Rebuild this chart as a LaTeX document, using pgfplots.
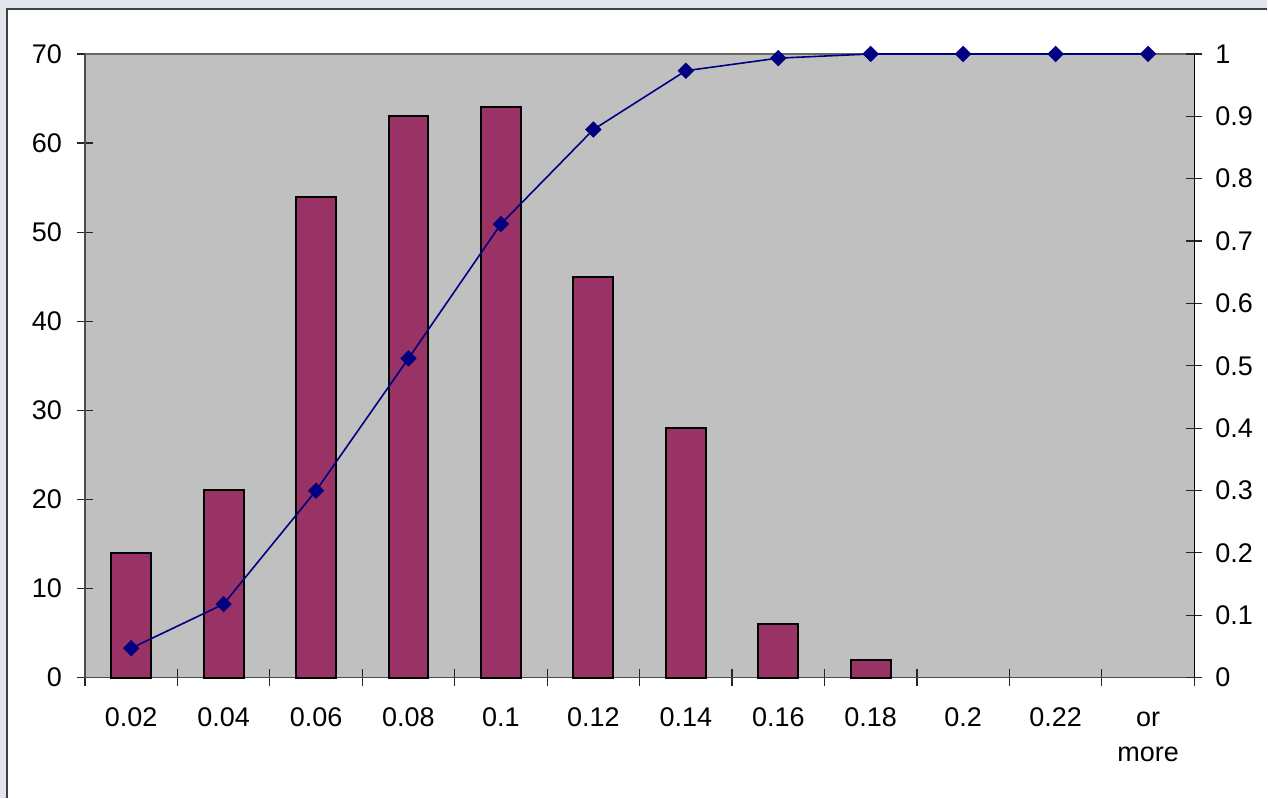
\documentclass[border=0pt]{standalone}
\usepackage{pgfplots}
\pgfplotsset{compat=1.18}
\usepackage{fontspec}
\setmainfont{Liberation Sans}
\definecolor{plum}{RGB}{153,51,102}
\definecolor{navy}{RGB}{0,0,128}
\definecolor{plotgray}{RGB}{192,192,192}
\definecolor{slide}{RGB}{226,230,236}
\begin{document}
\begin{tikzpicture}[x=1pt,y=1pt]
% slide background and white chart area (1px = 0.5pt)
\fill[slide] (0,0) rectangle (634,399);
\fill[white] (3.5,0) rectangle (634,394.5);
\draw[black!75,line width=0.8pt] (3.5,0) -- (3.5,394.5) -- (634,394.5);
\useasboundingbox (0,0) rectangle (634,399);

\begin{axis}[
  at={(42.5pt,60pt)}, anchor=south west,
  scale only axis, width=555pt, height=312pt,
  font=\fontsize{13.5}{16}\selectfont,
  /pgf/number format/assume math mode=true,
  axis background/.style={fill=plotgray},
  axis x line*=bottom, axis y line*=left,
  axis line style={black!70, line width=0.6pt},
  xmin=-0.5, xmax=11.5, ymin=0, ymax=70,
  ytick={0,10,...,70},
  xtick={0,...,11},
  xticklabels={0.02,0.04,0.06,0.08,0.1,0.12,0.14,0.16,0.18,0.2,0.22,
    {\begin{tabular}[t]{@{}c@{}}or\\[1.5pt]more\end{tabular}}},
  major x tick style={draw=none},
  minor xtick={-0.5,0.5,...,11.5},
  minor tick length=8.5pt,
  tick align=center,
  major tick length=8pt,
  tick style={black!85, line width=0.6pt},
  xticklabel style={anchor=base, yshift=-20.5pt},
  yticklabel style={xshift=-4pt},
  clip=false,
]
\addplot[ybar, bar width=20pt, fill=plum, draw=black, line width=1pt]
coordinates {
  (0,14) (1,21) (2,54) (3,63) (4,64) (5,45) (6,28) (7,6) (8,2)
};
\draw[gray!80!black, line width=0.6pt] (rel axis cs:0,1) -- (rel axis cs:1,1);
\end{axis}

\begin{axis}[
  at={(42.5pt,60pt)}, anchor=south west,
  scale only axis, width=555pt, height=312pt,
  font=\fontsize{13.5}{16}\selectfont,
  axis x line=none, axis y line*=right,
  axis line style={black, line width=0.6pt},
  xmin=-0.5, xmax=11.5, ymin=0, ymax=1,
  ytick={0,0.1,...,1},
  yticklabel style={/pgf/number format/fixed, xshift=3pt},
  tick align=center,
  major tick length=8pt,
  tick style={black!85, line width=0.6pt},
  /pgf/number format/assume math mode=true,
  clip=false,
]
\addplot[navy, line width=0.8pt, mark=square*, mark size=2.5pt,
  mark options={fill=navy, draw=navy, rotate=45}]
coordinates {
  (0,0.0471) (1,0.1178) (2,0.2997) (3,0.5118) (4,0.7273) (5,0.8788)
  (6,0.9731) (7,0.9933) (8,1) (9,1) (10,1) (11,1)
};
\end{axis}
\end{tikzpicture}
\end{document}
